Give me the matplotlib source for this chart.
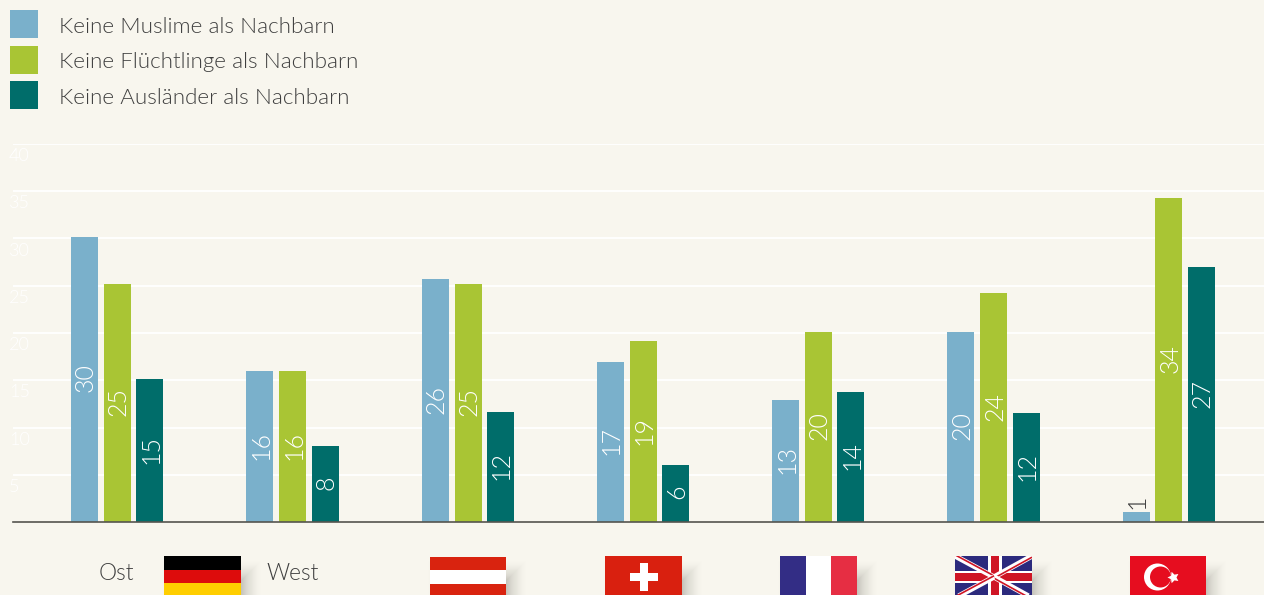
import numpy as np
import matplotlib
matplotlib.use("Agg")
import matplotlib.pyplot as plt
from matplotlib.patches import Rectangle, Circle
from matplotlib.transforms import ScaledTranslation

plt.rcParams["font.family"] = ["Lato", "DejaVu Sans"]
plt.rcParams["font.weight"] = 300

W, H = 1264, 595
BG = "#F8F6EE"
TXT = "#3F3F3F"

groups = ["Ost", "West", "Österreich", "Schweiz", "Frankreich", "Großbritannien", "Türkei"]
muslime = [30.2, 16.0, 25.7, 16.9, 12.9, 20.1, 1.05]
fluechtlinge = [25.2, 16.0, 25.2, 19.15, 20.1, 24.2, 34.3]
auslaender = [15.1, 8.05, 11.6, 6.05, 13.8, 11.5, 27.0]
series_names = [
    "Keine Muslime als Nachbarn",
    "Keine Flüchtlinge als Nachbarn",
    "Keine Ausländer als Nachbarn",
]
series_colors = ["#7AB0CB", "#A9C534", "#006D6A"]
yticks = [5, 10, 15, 20, 25, 30, 35, 40]

px = 1 / 100

fig = plt.figure(figsize=(W * px, H * px), dpi=100, facecolor=BG)
ax = fig.add_axes([13 / W, 1 - 522 / H, 1 - 13 / W, 378 / H], facecolor=BG)

# one group step is about 175.2 px, first group centre sits near x=117.6 px
step = 175.22
start = 117.6
ax.set_xlim((13 - start) / step, (W - start) / step)
ax.set_ylim(0, 40)

x = np.arange(len(groups))
bar_w = 27 / step
offsets = [-32.9 / step, 0, 32.3 / step]

for vals, off, col, name in zip(
    [muslime, fluechtlinge, auslaender], offsets, series_colors, series_names
):
    bars = ax.bar(x + off, vals, width=bar_w, color=col, label=name, zorder=2)
    for b, v in zip(bars, vals):
        cx = b.get_x() + b.get_width() / 2
        if v < 3:
            ax.annotate(f"{v:.0f}", (cx, v), xytext=(1, 2), textcoords="offset points",
                        rotation=90, ha="center", va="bottom", color=TXT, fontsize=18)
        else:
            ax.annotate(f"{v:.0f}", (cx, v / 2), xytext=(1, 1), textcoords="offset points",
                        rotation=90, ha="center", va="center", color="white", fontsize=18)

ax.set_yticks(yticks)
ax.set_xticks([])
ax.grid(axis="y", color="white", lw=1.3, zorder=1)
ax.set_axisbelow(True)
for s in ["top", "left", "right"]:
    ax.spines[s].set_visible(False)
ax.spines["bottom"].set_color("#55554F")
ax.spines["bottom"].set_linewidth(1.2)
ax.spines["bottom"].set_zorder(3)
ax.tick_params(axis="y", length=0, pad=3, labelsize=13, labelcolor="white")
shift = ScaledTranslation(0, -3 / 72, fig.dpi_scale_trans)
for lab in ax.get_yticklabels():
    lab.set_ha("left")
    lab.set_va("top")
    lab.set_transform(lab.get_transform() + shift)

fs = 16.1
fs_px = fs * 100 / 72
fig.legend(
    *ax.get_legend_handles_labels(),
    loc="upper left",
    bbox_to_anchor=(10 / W, 1 - 10 / H),
    frameon=False,
    fontsize=fs,
    labelcolor=TXT,
    borderpad=0,
    borderaxespad=0,
    handlelength=28 / fs_px,
    handleheight=(28 / fs_px - 0.245) / 0.65,
    handletextpad=21 / fs_px,
    labelspacing=7.5 / fs_px,
)
# legend text sits a touch low in the reference
for t in fig.legends[0].get_texts():
    t.set_y(-1.5)

# flags, drawn in pixel coordinates on an overlay
fl = fig.add_axes([0, 0, 1, 1], facecolor="none")
fl.set_xlim(0, W)
fl.set_ylim(H, 0)
fl.axis("off")


def rect(x0, y0, w, h, color, **kw):
    r = Rectangle((x0, y0), w, h, color=color, lw=0, **kw)
    fl.add_patch(r)
    return r


def shadow(x0, w, top=556, h=41):
    # blurred drop shadow from stacked translucent boxes, fading outwards
    for r in range(-10, 14):
        a = 0.024 * (13.5 - r) / 23.5
        rect(x0 + 9 - r, top + 16 - r, w + 2 * r, h + 2 * r, "#4A4A40", alpha=a)


def stripes_h(x0, w, cols, top=556, h=41):
    s = h / len(cols)
    for i, c in enumerate(cols):
        rect(x0, top + i * s, w, s + 0.3, c)


shadow(164, 77)
stripes_h(164, 77, ["#000000", "#DD0C0C", "#FFCE00"])

shadow(430, 76)
stripes_h(430, 76, ["#D9230F", "#FFFFFF", "#D9230F"], top=557, h=40)

shadow(605, 77)
rect(605, 556, 77, 41, "#D9200F")
rect(630, 573, 28, 8, "white")
rect(640, 563, 8, 28, "white")

shadow(780, 77)
stripes = ["#332D85", "#FFFFFF", "#E62E43"]
for i, c in enumerate(stripes):
    rect(780 + i * 25.67, 556, 25.97, 41, c)

shadow(955, 77)
base = rect(955, 556, 77, 41, "#2C2A7D")
uk_white, uk_red = "#FFFFFF", "#CF1525"
cx, cy = 994, 577
corners = [(955, 556, -1.2), (1032, 556, 1.2), (1032, 598, 1.2), (955, 598, -1.2)]
for xc, yc, dy in corners:
    w_line, = fl.plot([xc, cx], [yc, cy], color=uk_white, lw=3.8, solid_capstyle="butt")
    r_line, = fl.plot([xc, cx], [yc + dy, cy + dy], color=uk_red, lw=1.2, solid_capstyle="butt")
    w_line.set_clip_path(base)
    r_line.set_clip_path(base)
rect(955, 570.5, 77, 12.5, uk_white)
rect(988, 556, 14, 41, uk_white)
rect(955, 572.7, 77, 8.3, uk_red)
rect(990.5, 556, 8.5, 41, uk_red)

shadow(1130, 76)
rect(1130, 556, 76, 41, "#E60D1F")
fl.add_patch(Circle((1157.5, 577), 13.5, color="white", lw=0))
fl.add_patch(Circle((1160.5, 577), 10.5, color="#E60D1F", lw=0))
fl.scatter([1173], [577], marker=(5, 1, 90), s=75, color="white", lw=0)

fl.text(99, 574, "Ost", fontsize=16.4, color=TXT, va="center", ha="left")
fl.text(266.5, 574, "West", fontsize=16.4, color=TXT, va="center", ha="left")

fig.savefig("out.png", dpi=100, facecolor=BG)
